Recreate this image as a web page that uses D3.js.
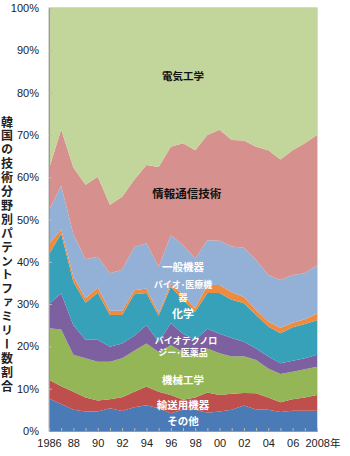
<!DOCTYPE html>
<html>
<head>
<meta charset="utf-8">
<script src="https://cdn.jsdelivr.net/npm/d3@7"></script>
<style>
  body { margin: 0; background: #fff; }
  svg { display: block; }
  text { font-family: "Liberation Sans", Arial, sans-serif; }
  .jp { font-family: "Noto Sans CJK JP", sans-serif; }
</style>
</head>
<body>
<div id="chart"></div>
<script>
var years = d3.range(1986, 2009)

// shares (%) per field, bottom to top
var other     = [7.7, 6.4, 5.0, 4.6, 4.6, 5.4, 4.7, 5.6, 6.1, 5.4, 4.2, 5.0, 5.0, 4.3, 4.6, 5.0, 6.0, 5.1, 5.0, 4.5, 4.8, 4.8, 4.8]
var transport = [4.4, 4.2, 4.3, 3.3, 2.6, 2.1, 3.3, 3.7, 4.4, 3.9, 4.3, 2.4, 2.9, 4.8, 3.9, 3.8, 3.0, 3.8, 2.9, 2.3, 2.7, 3.1, 3.7]
var mechEng   = [12.2, 13.4, 8.7, 9.3, 9.2, 8.9, 9.2, 9.7, 10.2, 9.4, 11.8, 11.3, 9.7, 10.4, 9.9, 8.8, 8.7, 7.9, 6.9, 6.7, 6.5, 6.7, 6.7]
var biotech   = [5.7, 8.5, 7.0, 4.4, 5.2, 3.5, 3.5, 3.5, 4.3, 2.4, 5.2, 4.3, 3.9, 4.7, 4.6, 4.4, 3.4, 2.7, 2.8, 2.5, 2.6, 2.6, 2.8]
var chemistry = [11.8, 14.2, 10.3, 8.7, 11.1, 7.5, 6.7, 9.8, 7.6, 6.2, 8.6, 8.0, 6.7, 8.4, 9.6, 9.0, 9.1, 7.9, 7.1, 7.1, 7.9, 8.1, 8.2]
var medDevice = [2.4, 1.0, 1.2, 1.1, 1.2, 1.0, 1.0, 1.0, 1.1, 0.6, 0.7, 1.2, 0.8, 1.9, 1.9, 1.8, 1.5, 1.2, 1.1, 1.3, 1.1, 1.1, 1.6]
var generalMc = [8.0, 10.3, 10.0, 9.2, 7.3, 8.9, 9.7, 10.2, 10.7, 10.9, 11.5, 11.8, 11.8, 10.6, 10.5, 10.8, 11.6, 11.8, 11.1, 11.3, 11.3, 10.9, 11.4]
var ict       = [9.8, 13.3, 15.8, 17.6, 18.9, 16.2, 17.3, 15.9, 18.5, 23.7, 20.9, 24.0, 25.6, 24.9, 26.2, 25.2, 25.4, 26.8, 29.5, 28.5, 29.5, 30.7, 30.8]
var elecEng   = [38.0, 28.7, 37.7, 41.8, 39.9, 46.5, 44.6, 40.6, 37.1, 37.6, 32.8, 32.0, 33.6, 30.0, 28.8, 31.2, 31.3, 32.8, 33.6, 35.8, 33.6, 32.0, 30.0]

var fieldKeys = ["other", "transport", "mechEng", "biotech", "chemistry", "medDevice", "generalMc", "ict", "elecEng"]
var fieldColors = ["#4a7bb7", "#bf4f4c", "#94b657", "#7c60a0", "#36a1b8", "#ef8b3e", "#93b0d6", "#d6918f", "#c2d69b"]

var yTicks = d3.range(0, 101, 10)

var table = years.map((yr, i) => ({
  year: yr,
  other: other[i], transport: transport[i], mechEng: mechEng[i],
  biotech: biotech[i], chemistry: chemistry[i], medDevice: medDevice[i],
  generalMc: generalMc[i], ict: ict[i], elecEng: elecEng[i]
}))

var width = 350, height = 456
var margin = {top: 8, right: 33, bottom: 25, left: 49}
var boundedWidth = width - margin.left - margin.right
var boundedHeight = height - margin.top - margin.bottom

var svg = d3.select("#chart").append("svg")
  .attr("width", width)
  .attr("height", height)

var bounds = svg.append("g")
  .attr("transform", `translate(${margin.left},${margin.top})`)

var xScale = d3.scaleLinear().domain([1986, 2008]).range([0, boundedWidth])
var yScale = d3.scaleLinear().domain([0, 1]).range([boundedHeight, 0])

var series = d3.stack().keys(fieldKeys).offset(d3.stackOffsetExpand)(table)

var area = d3.area()
  .x(d => xScale(d.data.year))
  .y0(d => yScale(d[0]))
  .y1(d => yScale(d[1]))

bounds.append("rect")
  .attr("width", boundedWidth)
  .attr("height", boundedHeight)
  .attr("fill", "none")
  .attr("stroke", "#b0b0b0")

bounds.selectAll(".layer")
  .data(series).enter()
  .append("path")
  .attr("class", "layer")
  .attr("d", area)
  .attr("fill", (d, i) => fieldColors[i])

// y axis
var yAxis = d3.axisLeft(yScale)
  .tickValues(yTicks.map(v => v / 100))
  .tickSize(-3)
  .tickPadding(10)
  .tickFormat(d => Math.round(d * 100) + "%")

var yAxisG = bounds.append("g").call(yAxis)
yAxisG.select(".domain").attr("stroke", "#999")
yAxisG.selectAll(".tick line").attr("stroke", "#b8b8b8")
yAxisG.selectAll("text").attr("font-size", 11).attr("fill", "#222")

// x axis
var xAxis = d3.axisBottom(xScale)
  .tickValues(years)
  .tickSize(-3)
  .tickPadding(8)
  .tickFormat(d => {
    if (d % 2) return ""
    if (d == 1986) return "1986"
    if (d == 2008) return "2008"
    return d3.format("02")(d % 100)
  })

var xAxisG = bounds.append("g")
  .attr("transform", `translate(0,${boundedHeight})`)
  .call(xAxis)
xAxisG.select(".domain").attr("stroke", "#999")
xAxisG.selectAll(".tick line").attr("stroke", "#b8b8b8")
xAxisG.selectAll("text").attr("font-size", 11).attr("fill", "#222")
xAxisG.selectAll(".tick").filter(d => d == 2008).select("text")
  .append("tspan").attr("class", "jp").text("年")
  .attr("font-size", 10.5)
xAxisG.selectAll(".tick").filter(d => d == 2008).select("text")
  .attr("text-anchor", "start").attr("x", -12)

// y axis title (vertical)
svg.append("text")
  .attr("class", "jp")
  .attr("x", 7)
  .attr("y", 116)
  .attr("writing-mode", "vertical-rl")
  .attr("font-size", 12)
  .attr("font-weight", "bold")
  .attr("letter-spacing", 1.9)
  .attr("fill", "#222")
  .text("韓国の技術分野別パテントファミリー数割合")

// in-area labels, one entry per line
var labels = [
  {text: "電気工学", year: 1997.0, pct: 83.0, color: "#111", size: 10.5},
  {text: "情報通信技術", year: 1997.3, pct: 55.1, color: "#111", size: 11.5},
  {text: "一般機器", year: 1997.0, pct: 37.8, color: "#fff", size: 10.5},
  {text: "バイオ･医療機", year: 1997.0, pct: 33.7, color: "#fff", size: 9},
  {text: "器", year: 1997.0, pct: 30.8, color: "#fff", size: 9},
  {text: "化学", year: 1997.0, pct: 26.6, color: "#fff", size: 11},
  {text: "バイオテクノロ", year: 1997.25, pct: 20.6, color: "#fff", size: 9},
  {text: "ジー･医薬品", year: 1997.0, pct: 17.7, color: "#fff", size: 9},
  {text: "機械工学", year: 1997.0, pct: 11.1, color: "#fff", size: 10.5},
  {text: "輸送用機器", year: 1997.0, pct: 5.2, color: "#fff", size: 10.5},
  {text: "その他", year: 1997.0, pct: 1.4, color: "#fff", size: 10.5}
]

bounds.selectAll(".area-label")
  .data(labels).enter()
  .append("text")
  .attr("class", "area-label jp")
  .attr("text-anchor", "middle")
  .attr("font-size", d => d.size)
  .attr("font-weight", "bold")
  .attr("fill", d => d.color)
  .attr("x", d => xScale(d.year))
  .attr("y", d => yScale(d.pct / 100))
  .text(d => d.text)
</script>
</body>
</html>
